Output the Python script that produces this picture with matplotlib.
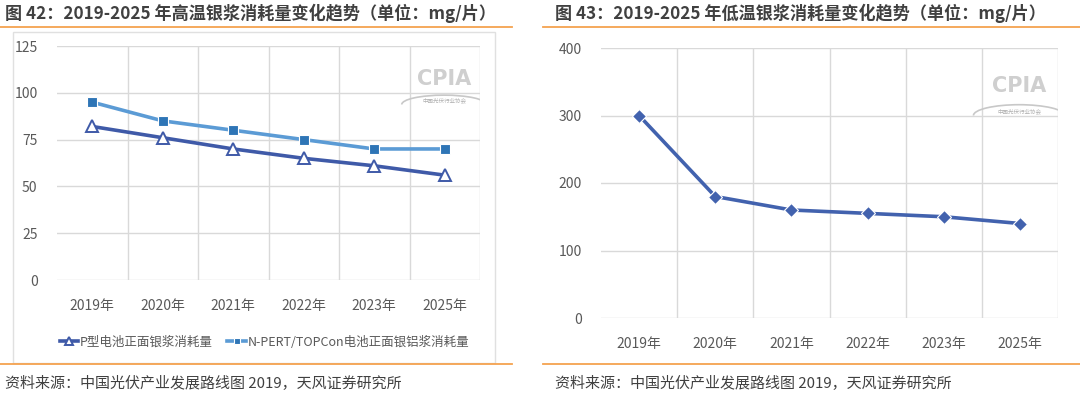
import matplotlib
matplotlib.use('Agg')
import matplotlib.pyplot as plt
from matplotlib.lines import Line2D
from matplotlib.patches import Rectangle, Arc

plt.rcParams['font.family'] = ['Noto Sans CJK SC', 'DejaVu Sans']

years = ['2019年', '2020年', '2021年', '2022年', '2023年', '2025年']
p_type = [82, 76, 70, 65, 61, 56]
n_type = [95, 85, 80, 75, 70, 70]
low_temp = [300, 180, 160, 155, 150, 140]
left_yticks = [0, 25, 50, 75, 100, 125]
right_yticks = [0, 100, 200, 300, 400]

title_left = '图 42：2019-2025 年高温银浆消耗量变化趋势（单位：mg/片）'
title_right = '图 43：2019-2025 年低温银浆消耗量变化趋势（单位：mg/片）'
source = '资料来源：中国光伏产业发展路线图 2019，天风证券研究所'
p_label = 'P型电池正面银浆消耗量'
n_label = 'N-PERT/TOPCon电池正面银铝浆消耗量'

text_c = '#404040'
tick_c = '#595959'
grid_c = '#d9d9d9'
orange = '#f5a24f'


def style_axes(ax, yticks):
    x = range(len(years))
    ax.set_xlim(-0.5, len(years) - 0.5)
    ax.set_ylim(yticks[0], yticks[-1])
    ax.set_xticks(list(x))
    ax.set_xticklabels(years)
    ax.set_xticks([i + 0.5 for i in x], minor=True)
    ax.set_yticks(yticks)
    ax.grid(True, which='minor', axis='x', color=grid_c, lw=1)
    ax.grid(True, which='major', axis='y', color=grid_c, lw=1)
    ax.set_axisbelow(True)
    for s in ax.spines.values():
        s.set_visible(False)
    ax.tick_params(which='both', length=0, colors=tick_c, labelsize=10)
    ax.tick_params(axis='x', pad=14)
    ax.tick_params(axis='y', pad=14)


def watermark(ax):
    ax.text(0.915, 0.86, 'CPIA', transform=ax.transAxes, ha='center', va='center',
            fontsize=15, fontweight='bold', color='#cfcfcf', family='DejaVu Sans')
    ax.text(0.915, 0.765, '中国光伏行业协会', transform=ax.transAxes, ha='center',
            va='center', fontsize=4, color='#b0b0b0')
    ax.add_patch(Arc((0.915, 0.75), 0.2, 0.08, theta1=0, theta2=180,
                     transform=ax.transAxes, color='#c8c8c8', lw=1.2))


fig = plt.figure(figsize=(10.8, 3.94), dpi=100)

# frames and rules
fig.add_artist(Rectangle((13 / 1080, 1 - 363 / 394), 482 / 1080, 331 / 394,
                         transform=fig.transFigure, fill=False, ec='#e0e0e0', lw=1))
for x0, x1 in [(0, 512), (543, 1080)]:
    for yy in [27, 364]:
        fig.add_artist(Line2D([x0 / 1080, x1 / 1080], [1 - yy / 394] * 2,
                              transform=fig.transFigure, color=orange, lw=1.3))

fig.text(5 / 1080, 1 - 13 / 394, title_left, fontsize=12.3, fontweight='bold',
         color=text_c, va='center')
fig.text(555 / 1080, 1 - 13 / 394, title_right, fontsize=12.3, fontweight='bold',
         color=text_c, va='center')
fig.text(5 / 1080, 1 - 384 / 394, source, fontsize=10.8, color=text_c, va='center')
fig.text(555 / 1080, 1 - 384 / 394, source, fontsize=10.8, color=text_c, va='center')

# left chart
ax1 = fig.add_axes([57 / 1080, 1 - 280 / 394, 423 / 1080, 234 / 394])
style_axes(ax1, left_yticks)
xs = range(len(years))
ax1.plot(xs, p_type, color='#3f5aa8', lw=2.6, marker='^', markersize=8,
         markerfacecolor='white', markeredgecolor='#3f5aa8', markeredgewidth=1.4,
         label=p_label, zorder=3)
ax1.plot(xs, n_type, color='#5b9bd5', lw=2.6, marker='s', markersize=7,
         markerfacecolor='#2e75b6', markeredgecolor='white', markeredgewidth=0.8,
         label=n_label, zorder=3)
watermark(ax1)
leg = ax1.legend(loc='center', bbox_to_anchor=(0.49, -0.265), ncol=2, frameon=False,
                 fontsize=9, handlelength=1.5, handletextpad=0.1, columnspacing=1.2,
                 markerscale=0.7)
for t in leg.get_texts():
    t.set_color(tick_c)

# right chart
ax2 = fig.add_axes([601 / 1080, 1 - 318 / 394, 457 / 1080, 270 / 394])
style_axes(ax2, right_yticks)
ax2.plot(xs, low_temp, color='#4262ae', lw=2.6, marker='D', markersize=7,
         markerfacecolor='#4262ae', markeredgecolor='white', markeredgewidth=0.8,
         zorder=3)
watermark(ax2)

fig.savefig('out.png', dpi=100)
